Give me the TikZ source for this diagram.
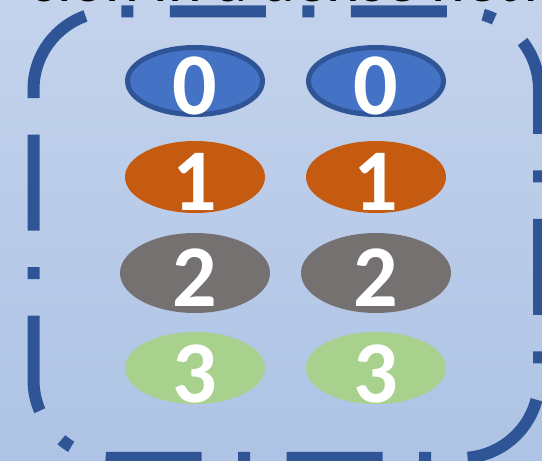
\documentclass[tikz,border=0pt]{standalone}
\usepackage{fontspec}
\setmainfont{Carlito}
\usetikzlibrary{shapes.geometric}
\definecolor{framecol}{HTML}{2F5597}
\definecolor{blueF}{HTML}{4472C4}
\definecolor{orangeF}{HTML}{C55A11}
\definecolor{grayF}{HTML}{767171}
\definecolor{greenF}{HTML}{A9D18E}
\definecolor{bgtop}{RGB}{196,211,236}
\definecolor{bgbot}{RGB}{174,195,229}
\tikzset{
  token/.style={ellipse, inner sep=0pt, draw=none},
  digit/.style={anchor=base, inner sep=0pt, text=white,
    font=\fontsize{88}{90}\selectfont\bfseries},
  frameline/.style={draw=framecol, line width=12pt, line cap=butt,
    dash pattern=on 96pt off 36.5pt on 12pt off 36.5pt}
}
\begin{document}
\begin{tikzpicture}[x=1pt,y=1pt]
\useasboundingbox (0,0) rectangle (542,461);
\clip (0,0) rectangle (542,461);
\shade[top color=bgtop, bottom color=bgbot] (0,0) rectangle (542,461);
% cut-off title
\node[anchor=base west, inner sep=0pt, font=\fontsize{64}{66}\selectfont] (title) at (32,459) {sion in a dense network};
% dash-dot rounded frame
\draw[frameline] (33.5,371.5) arc[start angle=180, end angle=90, radius=78]
  -- (461,449.5) arc[start angle=90, end angle=0, radius=78]
  -- (539,81) arc[start angle=0, end angle=-90, radius=78]
  -- (111.5,3) arc[start angle=-90, end angle=-180, radius=78]
  -- cycle;
% tokens
\node[token, fill=blueF, draw=framecol, line width=5pt, minimum width=135pt, minimum height=67pt] (e0L) at (195,380) {};
\node[token, fill=blueF, draw=framecol, line width=5pt, minimum width=135pt, minimum height=67pt] (e0R) at (376,380) {};
\node[token, fill=orangeF, minimum width=140pt, minimum height=72pt] (e1L) at (195,284) {};
\node[token, fill=orangeF, minimum width=140pt, minimum height=72pt] (e1R) at (376,284) {};
\node[token, fill=grayF, minimum width=150pt, minimum height=80pt] (e2L) at (195,188) {};
\node[token, fill=grayF, minimum width=150pt, minimum height=80pt] (e2R) at (376,188) {};
\node[token, fill=greenF, minimum width=140pt, minimum height=72pt] (e3L) at (195,93) {};
\node[token, fill=greenF, minimum width=140pt, minimum height=72pt] (e3R) at (376,93) {};
\node[digit] (d0L) at (195,346) {0};
\node[digit] (d0R) at (376,346) {0};
\node[digit] (d1L) at (195,250) {1};
\node[digit] (d1R) at (376,250) {1};
\node[digit] (d2L) at (195,154) {2};
\node[digit] (d2R) at (376,154) {2};
\node[digit] (d3L) at (195,58) {3};
\node[digit] (d3R) at (376,58) {3};
\end{tikzpicture}
\end{document}
